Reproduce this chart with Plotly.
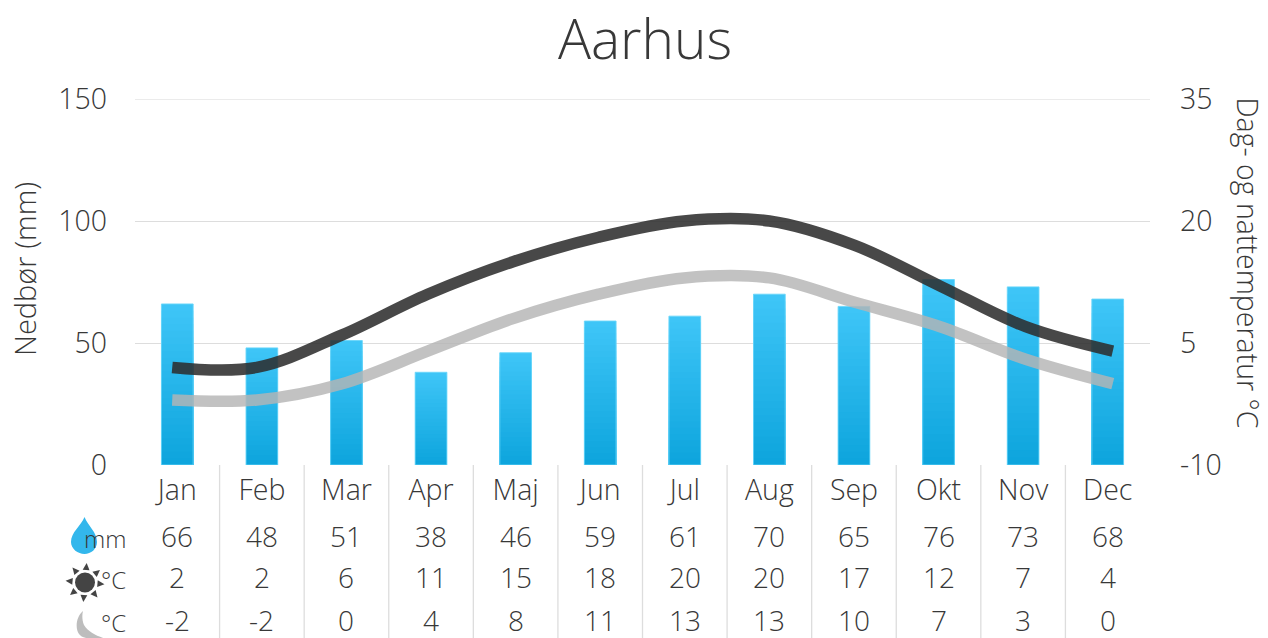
import plotly.graph_objects as go
import math

months = ["Jan","Feb","Mar","Apr","Maj","Jun","Jul","Aug","Sep","Okt","Nov","Dec"]
rain = [66,48,51,38,46,59,61,70,65,76,73,68]
day = [2,2,6,11,15,18,20,20,17,12,7,4]
night = [-2,-2,0,4,8,11,13,13,10,7,3,0]
line_x = [-0.06,0.94,1.95,2.96,3.97,4.98,5.99,7.0,8.01,9.02,10.03,11.06]
left_ticks = [0, 50, 100, 150]
right_ticks = [-10, 5, 20, 35]

W, H = 1268, 638
L, R, T, B = 135, 1150, 99, 465
TXT = "#383838"
FONT = "Open Sans"
def px(x): return (x - L) / (R - L)
def py(y): return (B - y) / (B - T)
def lf(size): return dict(size=size, color=TXT, family=FONT, weight=300)

grad_n = 24
top_c, bot_c = (62,197,247), (14,165,221)
fig = go.Figure()
for k in range(grad_n):
    f = 1 - k / grad_n
    t = k / (grad_n - 1)
    c = tuple(round(a + (b - a) * t) for a, b in zip(top_c, bot_c))
    fig.add_bar(x=months, y=[v * f for v in rain], width=0.375,
                marker=dict(color=f"rgb{c}", line=dict(width=0)), hoverinfo="skip", showlegend=False)
fig.add_bar(x=months, y=rain, width=0.375,
            marker=dict(color="rgba(0,0,0,0)", line=dict(width=1, color="rgba(105,214,250,0.9)")),
            hoverinfo="skip", showlegend=False)
for vals, col in ((day, "rgba(45,45,45,0.87)"), (night, "rgba(180,180,180,0.82)")):
    fig.add_scatter(x=line_x, y=vals, yaxis="y2", xaxis="x2", mode="lines",
                    line=dict(color=col, width=11.5, shape="spline", smoothing=1.0), showlegend=False)

ann = []
rows = [(536, rain, "mm"), (577, day, "°C"), (620, night, "°C")]
for y, vals, unit in rows:
    for m, v in zip(months, vals):
        ann.append(dict(x=m, xref="x", y=py(y), yref="paper", text=str(v), showarrow=False,
                        font=lf(28), xanchor="center", yanchor="middle"))
    ann.append(dict(x=px(128), xref="paper", y=py(y + 2), yref="paper", text=unit, showarrow=False,
                    font=lf(24), xanchor="right", yanchor="middle"))
ann.append(dict(x=px(24), xref="paper", y=py(269), yref="paper", text="Nedbør (mm)", textangle=-90,
                showarrow=False, font=lf(29), xanchor="center", yanchor="middle"))
ann.append(dict(x=px(1247.5), xref="paper", y=py(263), yref="paper", text="Dag- og nattemperatur °C", textangle=90,
                showarrow=False, font=lf(28.5), xanchor="center", yanchor="middle"))

shapes = [dict(type="line", xref="paper", yref="y", x0=0, x1=1, y0=left_ticks[-1], y1=left_ticks[-1],
               line=dict(color="#d8d8d8", width=1.2), layer="below")]
for i in range(len(months) - 1):
    shapes.append(dict(type="line", xref="x", yref="paper", x0=i + 0.5, x1=i + 0.5, y0=py(465), y1=py(638),
                       line=dict(color="#dddddd", width=1.3), layer="below"))

def icon_path(pts):
    return "M" + " L".join(f"{px(x)},{py(y)}" for x, y in pts) + " Z"

drop = (f"M{px(84.5)},{py(517)} C{px(88)},{py(526)} {px(97)},{py(532)} {px(97)},{py(542)} "
        f"C{px(97)},{py(549)} {px(91)},{py(554)} {px(84.5)},{py(554)} "
        f"C{px(78)},{py(554)} {px(71)},{py(549)} {px(71)},{py(542)} "
        f"C{px(71)},{py(532)} {px(81)},{py(526)} {px(84.5)},{py(517)} Z")
shapes.append(dict(type="path", xref="paper", yref="paper", path=drop, fillcolor="#33b7ec", line=dict(width=0), layer="below"))
shapes.append(dict(type="circle", xref="paper", yref="paper", x0=px(75), x1=px(95), y0=py(592.5), y1=py(572.5),
                   fillcolor="#444444", line=dict(width=0)))
cx, cy = 85, 582.5
for k in range(8):
    a = math.radians(k * 45 + 5)
    r1, r2, w = 12.5, 19.5, 3.4
    tip = (cx + r2 * math.cos(a), cy + r2 * math.sin(a))
    b1 = (cx + r1 * math.cos(a) - w * math.sin(a), cy + r1 * math.sin(a) + w * math.cos(a))
    b2 = (cx + r1 * math.cos(a) + w * math.sin(a), cy + r1 * math.sin(a) - w * math.cos(a))
    shapes.append(dict(type="path", xref="paper", yref="paper", path=icon_path([tip, b1, b2]),
                       fillcolor="#444444", line=dict(width=0)))
moon = (f"M{px(83)},{py(611)} C{px(76)},{py(617)} {px(75)},{py(628)} {px(79)},{py(634)} "
        f"C{px(82)},{py(638)} {px(86)},{py(639)} {px(106)},{py(639)} "
        f"C{px(97)},{py(636)} {px(88)},{py(632)} {px(84)},{py(625)} "
        f"C{px(82)},{py(620)} {px(82)},{py(615)} {px(83)},{py(611)} Z")
shapes.append(dict(type="path", xref="paper", yref="paper", path=moon, fillcolor="#bdbdbd", line=dict(width=0)))

tick_font = lf(28.5)
fig.update_layout(
    width=W, height=H, autosize=False, barmode="overlay",
    margin=dict(l=L, r=W - R, t=T, b=H - B, pad=0),
    paper_bgcolor="white", plot_bgcolor="white", showlegend=False,
    title=dict(text="Aarhus", x=645 / W, xanchor="center", y=1 - 40 / H, yanchor="middle", font=lf(55)),
    xaxis=dict(type="category", categoryorder="array", categoryarray=months, range=[-0.5, 11.5],
               showgrid=False, zeroline=False, showline=False, ticks="", tickfont=tick_font, ticklabelstandoff=5),
    xaxis2=dict(overlaying="x", range=[-0.5, 11.5], visible=False),
    yaxis=dict(range=[0, 150], tickvals=left_ticks, showgrid=True, gridcolor="#dddddd", gridwidth=1,
               zeroline=False, ticks="", tickfont=tick_font, ticklabelstandoff=27),
    yaxis2=dict(overlaying="y", side="right", range=[-10, 35], tickvals=right_ticks,
                ticktext=[str(v) for v in right_ticks], showgrid=False,
                zeroline=False, ticks="", tickfont=tick_font, ticklabelstandoff=29),
    annotations=ann, shapes=shapes,
)
fig.write_html("out.html", config=dict(displayModeBar=False),
               post_script="document.body.style.margin='0';document.body.style.overflow='hidden';")
